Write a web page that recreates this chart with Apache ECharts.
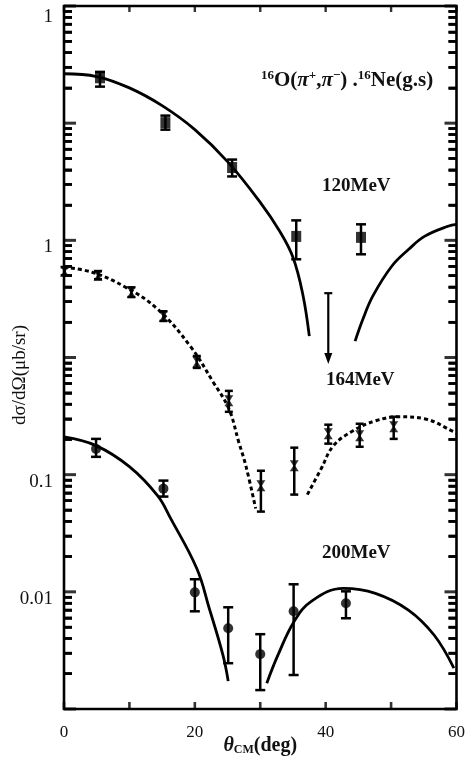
<!DOCTYPE html>
<html><head><meta charset="utf-8">
<script src="https://cdn.jsdelivr.net/npm/echarts@6/dist/echarts.min.js"></script>
<style>html,body{margin:0;padding:0;background:#fff}#c{width:468px;height:761px}</style>
</head><body><div id="c"></div><script>
// ---- data ----
const xTicks = [0, 10, 20, 30, 40, 50, 60];
const xTickLabels = ['0', '', '20', '', '40', '', '60'];
const yDecades = [0.001, 0.01, 0.1, 1, 10, 100, 1000];
const yTickLabels = ['', '0.01', '0.1', '', '1', '', '1'];
const yMinorSteps = [2, 3, 4, 5, 6, 7, 8, 9];

const ang120 = [5.5, 15.5, 25.7, 35.5, 45.4];
const val120 = [244, 101, 41.8, 10.8, 10.6];
const lo120  = [205, 88, 35.1, 6.89, 7.6];
const hi120  = [274, 116, 48.9, 14.8, 13.7];
const limAngle120 = 40.4, limTop120 = 3.54, limTip120 = 0.88;
const fit120a = [[0,264],[5,250],[10,200],[15,141],[20,88.1],[25,47.0],[30,21.1],[33,11.9],[35,7.17],[36.5,3.47],[37.5,1.52]];
const fit120b = [[44.5,1.38],[45.7,2.13],[47.2,3.34],[50.1,6.01],[52.7,8.38],[55.1,10.8],[58.7,13.2],[60,13.7]];

const ang164 = [0.1, 5.2, 10.3, 15.2, 20.3, 25.2, 30.1, 35.2, 40.4, 45.2, 50.4];
const val164 = [5.45, 5.04, 3.61, 2.25, 0.917, 0.427, 0.0805, 0.119, 0.223, 0.215, 0.256];
const lo164  = [5.04, 4.66, 3.28, 2.05, 0.815, 0.344, 0.0484, 0.0676, 0.184, 0.173, 0.202];
const hi164  = [5.89, 5.45, 3.97, 2.48, 1.03, 0.519, 0.108, 0.170, 0.267, 0.272, 0.312];
const fit164a = [[0,5.89],[4.3,5.34],[9.4,3.98],[14.3,2.59],[19.3,1.25],[22.8,0.618],[25.2,0.365],[26.7,0.191],[27.8,0.119],[29.3,0.0514]];
const fit164b = [[37.2,0.0676],[39.3,0.112],[41.2,0.177],[44.2,0.237],[47.6,0.288],[51.2,0.312],[55.1,0.300],[59.6,0.232],[60,0.225]];

const ang200 = [4.9, 15.2, 20, 25.1, 30, 35.1, 43.1];
const val200 = [0.166, 0.076, 0.0099, 0.00489, 0.00294, 0.00682, 0.00798];
const lo200  = [0.142, 0.065, 0.00682, 0.00246, 0.00145, 0.00195, 0.00595];
const hi200  = [0.202, 0.089, 0.0128, 0.00738, 0.00435, 0.0116, 0.0101];
const fit200a = [[0,0.210],[4.9,0.177],[10,0.117],[14.3,0.0662],[16.3,0.0423],[20.3,0.0158],[22.2,0.00724],[24.3,0.00288],[25.1,0.00173]];
const fit200b = [[31,0.00166],[32.7,0.00288],[35.2,0.00561],[37.8,0.0083],[42.7,0.0107],[47.6,0.00971],[52.7,0.00696],[56.6,0.00426],[59.6,0.00223]];

// ---- chart ----
const SERIF = '"Liberation Serif","DejaVu Serif",serif';
const Y_MIN = yDecades[0], Y_MAX = yDecades[yDecades.length - 1];
const X_MIN = xTicks[0], X_MAX = xTicks[xTicks.length - 1];
const zip = (a, b) => a.map((x, i) => [x, b[i]]);
const zip3 = (a, b, c) => a.map((x, i) => [x, b[i], c[i]]);

const yMinor = [];
yDecades.slice(0, -1).forEach(d => yMinorSteps.forEach(m => yMinor.push(m * d)));

// minor ticks drawn as short rects through the axis scale
function minorTickRender(params, api) {
  const v = api.value(1), side = api.value(2);
  const p = api.coord([side === 0 ? X_MIN : X_MAX, v]);
  const len = 8, w = 2.6;
  const x = side === 0 ? p[0] : p[0] - len;
  return {type: 'rect', shape: {x: x, y: p[1] - w / 2, width: len, height: w}, style: {fill: '#000'}, z2: 10};
}
const minorItems = [];
yMinor.forEach(v => { minorItems.push([30, v, 0]); minorItems.push([30, v, 1]); });

const tickSeries = (data, size, offset) => ({
  type: 'scatter', data, symbol: 'rect', symbolSize: size, symbolOffset: offset,
  itemStyle: {color: '#000'}, silent: true, clip: false, z: 7
});

function errRender(cap) {
  return function (params, api) {
    const x = api.value(0);
    const p1 = api.coord([x, api.value(1)]);
    const p2 = api.coord([x, api.value(2)]);
    const st = {stroke: '#000', lineWidth: 2.5};
    return {type: 'group', children: [
      {type: 'line', shape: {x1: p1[0], y1: p1[1], x2: p2[0], y2: p2[1]}, style: st},
      {type: 'line', shape: {x1: p1[0]-cap, y1: p1[1], x2: p1[0]+cap, y2: p1[1]}, style: st},
      {type: 'line', shape: {x1: p2[0]-cap, y1: p2[1], x2: p2[0]+cap, y2: p2[1]}, style: st}
    ]};
  };
}

function limitRender(params, api) {
  const top = api.coord([api.value(0), api.value(1)]);
  const tip = api.coord([api.value(0), api.value(2)]);
  const st = {stroke: '#000', lineWidth: 2.2};
  return {type: 'group', children: [
    {type: 'line', shape: {x1: top[0], y1: top[1], x2: tip[0], y2: tip[1] - 8}, style: st},
    {type: 'line', shape: {x1: top[0]-4, y1: top[1], x2: top[0]+4, y2: top[1]}, style: st},
    {type: 'polygon', shape: {points: [[tip[0]-4, tip[1]-11], [tip[0]+4, tip[1]-11], [tip[0], tip[1]]]}, style: {fill: '#000'}}
  ]};
}

const lineStyleSolid = {color: '#000', width: 2.8};
const lineStyleDash = {color: '#000', width: 3, type: [4, 3]};
const curve = (data, ls) => ({type: 'line', data, showSymbol: false, symbol: 'none', smooth: 0.4,
  lineStyle: ls, silent: true, z: 3});

const hourglass = 'path://M0,0L10,0L6,5L10,10L0,10L4,5Z';
const labelRich = {
  a: {fontFamily: SERIF, fontSize: 19, color: '#111', padding: [14, 0, 0, 0]},
  t: {fontFamily: SERIF, fontSize: 19, color: '#111', padding: [22, 0, 0, 0]}
};
const hiddenLogAxis = (position) => ({
  type: 'log', logBase: 10, min: Y_MIN, max: Y_MAX, position,
  axisLine: {show: false}, splitLine: {show: false}, axisLabel: {show: false},
  axisTick: {show: true, inside: true, length: 8, lineStyle: {color: '#000', width: 2.6}, customValues: yMinor}
});

const chart = echarts.init(document.getElementById('c'), null, {renderer: 'canvas'});
chart.setOption({
  animation: false,
  backgroundColor: '#fff',
  grid: {left: 64, right: 3, top: 6, bottom: 50, show: true, borderColor: '#000', borderWidth: 2.6},
  xAxis: {
    type: 'value', min: X_MIN, max: X_MAX, interval: 10,
    axisLine: {show: false}, axisTick: {show: false}, splitLine: {show: false},
    axisLabel: {margin: 15, color: '#111', fontFamily: SERIF, fontSize: 17,
      formatter: v => xTickLabels[xTicks.indexOf(v)] || ''},
    name: '{t|θ}{s|CM}{n|(deg)}', nameLocation: 'middle', nameGap: 25, nameMoveOverlap: false,
    nameTextStyle: {rich: {
      t: {fontFamily: SERIF, fontSize: 20, fontStyle: 'italic', fontWeight: 'bold', color: '#111', lineHeight: 22, verticalAlign: 'bottom'},
      s: {fontFamily: SERIF, fontSize: 12, fontWeight: 'bold', color: '#111', lineHeight: 22, verticalAlign: 'bottom'},
      n: {fontFamily: SERIF, fontSize: 20, fontWeight: 'bold', color: '#111', lineHeight: 22, verticalAlign: 'bottom'}
    }}
  },
  yAxis: [{
    type: 'log', logBase: 10, min: Y_MIN, max: Y_MAX,
    axisLine: {show: false}, axisTick: {show: false}, splitLine: {show: false}, minorTick: {show: false},
    axisLabel: {margin: 11, rich: labelRich,
      formatter: v => {
        const i = Math.round(Math.log10(v)) + 3;
        const t = yTickLabels[i] || '';
        if (!t) return '';
        return (i === yTickLabels.length - 1 ? '{t|' : '{a|') + t + '}';
      }}
  }, hiddenLogAxis('left'), hiddenLogAxis('right')],
  title: {
    text: '{s|16}{n|O(}{i|π}{s|+}{n|,}{i|π}{s|−}{n|) .}{s|16}{n|Ne(g.s)}',
    left: 256, top: 64,
    textStyle: {rich: {
      s: {fontFamily: SERIF, fontSize: 13, fontWeight: 'bold', color: '#111', verticalAlign: 'top', lineHeight: 24},
      n: {fontFamily: SERIF, fontSize: 21, fontWeight: 'bold', color: '#111', lineHeight: 24},
      i: {fontFamily: SERIF, fontSize: 21, fontStyle: 'italic', fontWeight: 'bold', color: '#111', lineHeight: 24}
    }}
  },
  graphic: [
    {type: 'text', left: 322, top: 177, style: {text: '120MeV', font: 'bold 19px ' + SERIF, fill: '#111'}},
    {type: 'text', left: 326, top: 371, style: {text: '164MeV', font: 'bold 19px ' + SERIF, fill: '#111'}},
    {type: 'text', left: 322, top: 544, style: {text: '200MeV', font: 'bold 19px ' + SERIF, fill: '#111'}},
    {type: 'text', x: 20, y: 375, rotation: Math.PI / 2, style: {text: 'dσ/dΩ(μb/sr)', font: '19px ' + SERIF, fill: '#111', align: 'center', verticalAlign: 'middle'}}
  ],
  series: [
    tickSeries(yDecades.map(v => [X_MIN, v]), [12, 3], [6, 0]),
    tickSeries(yDecades.map(v => [X_MAX, v]), [12, 3], [-6, 0]),
    {type: 'custom', data: minorItems, renderItem: minorTickRender, silent: true, clip: false, z: 8},
    tickSeries(xTicks.map(t => [t, Y_MIN]), [2.6, 7], [0, -3.5]),
    tickSeries(xTicks.map(t => [t, Y_MAX]), [2.4, 6], [0, 3]),
    curve(fit120a, lineStyleSolid), curve(fit120b, lineStyleSolid),
    curve(fit164a, lineStyleDash), curve(fit164b, lineStyleDash),
    curve(fit200a, lineStyleSolid), curve(fit200b, lineStyleSolid),
    {type: 'custom', data: zip3(ang120, lo120, hi120), renderItem: errRender(5), silent: true, z: 4},
    {type: 'custom', data: zip3(ang164, lo164, hi164), renderItem: errRender(4), silent: true, z: 4},
    {type: 'custom', data: zip3(ang200, lo200, hi200), renderItem: errRender(5), silent: true, z: 4},
    {type: 'custom', data: [[limAngle120, limTop120, limTip120]], renderItem: limitRender, silent: true, z: 4},
    {type: 'scatter', data: zip(ang120, val120), symbol: 'rect', symbolSize: [10, 11], itemStyle: {color: '#000'}, z: 6},
    {type: 'scatter', data: zip(ang164, val164), symbol: hourglass, symbolSize: [9, 11], itemStyle: {color: '#000'}, z: 6},
    {type: 'scatter', data: zip(ang200, val200), symbol: 'circle', symbolSize: 10, itemStyle: {color: '#000'}, z: 6}
  ]
});
</script></body></html>
